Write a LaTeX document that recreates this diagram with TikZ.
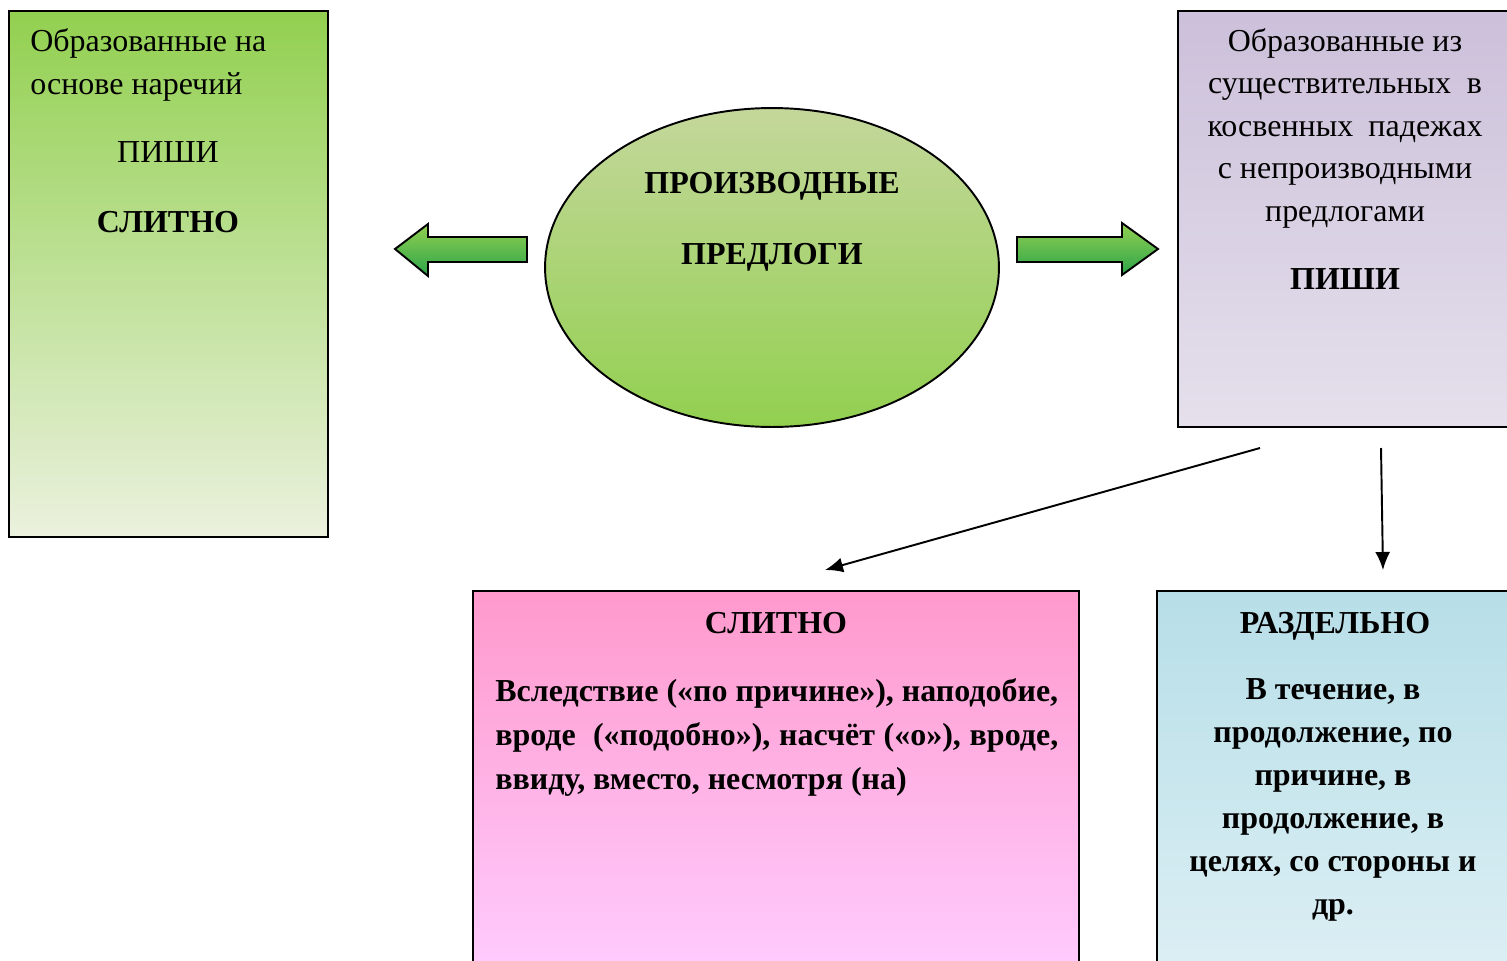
\documentclass[tikz,border=0pt]{standalone}
\usepackage{fontspec}
\setmainfont{Liberation Serif}
\usetikzlibrary{positioning, shapes.geometric, arrows.meta}

\definecolor{grnA}{RGB}{146,208,80}
\definecolor{grnB}{RGB}{235,241,222}
\definecolor{grnC}{RGB}{196,215,155}
\definecolor{grnD}{RGB}{44,164,74}
\definecolor{lilA}{RGB}{204,192,218}
\definecolor{lilB}{RGB}{229,224,236}
\definecolor{pnkA}{RGB}{255,153,204}
\definecolor{pnkB}{RGB}{255,204,255}
\definecolor{bluA}{RGB}{183,222,232}
\definecolor{bluB}{RGB}{220,239,244}

\tikzset{
  panel/.style={draw=black, line width=1.1pt, inner sep=0pt, rectangle},
  txt/.style={font=\fontsize{18.2}{24.1}\selectfont, inner sep=0pt},
  bf/.style={font=\fontsize{18.2}{24.4}\selectfont\bfseries, inner sep=0pt},
  conn/.style={line width=1.1pt, -{Latex[length=0.36cm,width=0.3cm]}},
  blockarrow/.style={draw=black, line width=1.1pt, top color=grnA, bottom color=grnD}
}

\begin{document}
\begin{tikzpicture}[x=0.02cm, y=-0.02cm]
            \useasboundingbox (0,0) rectangle (1507,960);
            \clip (0,0) rectangle (1507,960);
            % boxes
            \node[panel, minimum width=6.38cm, minimum height=10.52cm, top color=grnA, bottom color=grnB] (adv) at (168.5,274) {};
            \node[panel, ellipse, minimum width=9.08cm, minimum height=6.38cm, top color=grnC, bottom color=grnA] (core) at (772,267.5) {};
            \node[panel, minimum width=6.84cm, minimum height=8.32cm, top color=lilA, bottom color=lilB] (noun) at (1349,219) {};
            \node[panel, minimum width=12.12cm, minimum height=7.68cm, top color=pnkA, bottom color=pnkB] (joint) at (776,783) {};
            \node[panel, minimum width=7.26cm, minimum height=7.68cm, top color=bluA, bottom color=bluB] (apart) at (1338.5,783) {};
            % block arrows
            \path[blockarrow] (527,237)--(428,237)--(428,224)--(395,249)--(428,276)--(428,262)--(527,262)--cycle;
            \path[blockarrow] (1017,237)--(1122,237)--(1122,223)--(1158,249)--(1122,275)--(1122,262)--(1017,262)--cycle;
            % texts (base = last line)
            \node[txt, anchor=base west, align=left] (advT) at (30,94) {Образованные на\\основе наречий};
            \node[txt, anchor=base] (advW) at (168,162) {ПИШИ};
            \node[bf, anchor=base] (advS) at (168,232) {СЛИТНО};
            \node[bf, anchor=base] (coreA) at (772,193) {ПРОИЗВОДНЫЕ};
            \node[bf, anchor=base] (coreB) at (772,264) {ПРЕДЛОГИ};
            \node[txt, anchor=base, align=center] (nounT) at (1345,221) {Образованные из\\\makebox[5.48cm][s]{существительных \ в}\\\makebox[5.5cm][s]{косвенных \ падежах}\\с непроизводными\\предлогами};
            \node[bf, anchor=base] (nounW) at (1345,289) {ПИШИ};
            \node[bf, anchor=base] (jointH) at (776,633) {СЛИТНО};
            \node[bf, font=\fontsize{18.2}{24.8}\selectfont\bfseries, anchor=base west, align=left] (jointT) at (495,789) {\makebox[11.26cm][s]{Вследствие («по причине»), наподобие,}\\\makebox[11.26cm][s]{вроде \ («подобно»), насчёт («о»), вроде,}\\ввиду, вместо, несмотря (на)};
            \node[bf, anchor=base] (apartH) at (1335,633) {РАЗДЕЛЬНО};
            \node[bf, anchor=base, align=center] (apartT) at (1333,914) {В течение, в\\продолжение, по\\причине, в\\продолжение, в\\целях, со стороны и\\др.};
            % connectors
            \coordinate (s1) at (1260,448);
            \coordinate (e1) at (825,570);
            \coordinate (s2) at (1381,448);
            \coordinate (e2) at (1383,570);
            \draw[conn] (s1)--(e1);
            \draw[conn] (s2)--(e2);
        \end{tikzpicture}
\end{document}
